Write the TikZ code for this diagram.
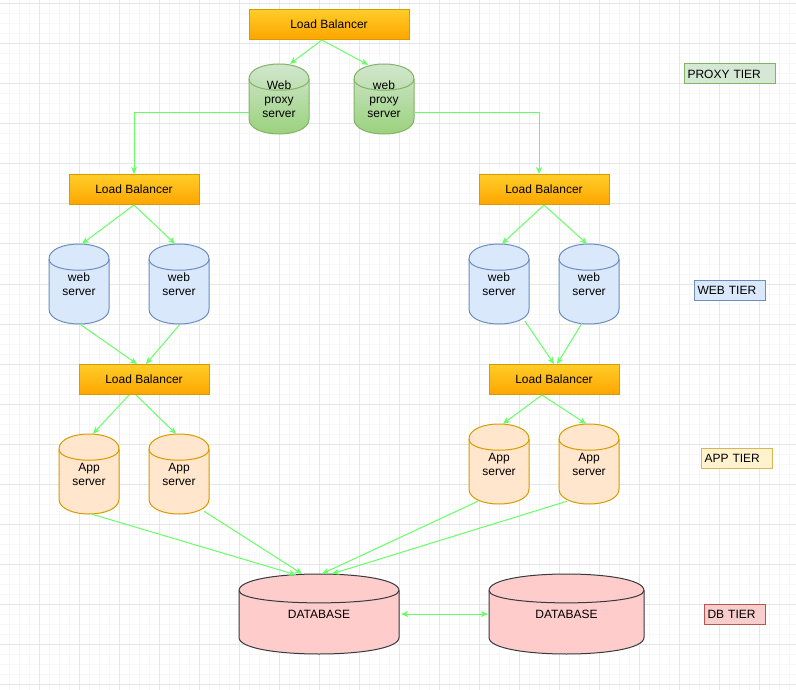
\documentclass[tikz,border=0pt]{standalone}
\usepackage{fontspec}
\setmainfont{Liberation Sans}
\usetikzlibrary{calc,arrows.meta}
\definecolor{conncol}{HTML}{66FF66}
\definecolor{lbdraw}{HTML}{D79B00}
\definecolor{lbtop}{HTML}{FFCD28}
\definecolor{lbbot}{HTML}{FFA500}
\definecolor{pxdraw}{HTML}{82B366}
\definecolor{pxtop}{HTML}{D5E8D4}
\definecolor{pxbot}{HTML}{97D077}
\definecolor{webfill}{HTML}{DAE8FC}
\definecolor{webdraw}{HTML}{6C8EBF}
\definecolor{appfill}{HTML}{FFE6CC}
\definecolor{appdraw}{HTML}{D79B00}
\definecolor{dbfill}{HTML}{FFCCCC}
\definecolor{dbdraw}{HTML}{36393D}
\definecolor{tapfill}{HTML}{FFF2CC}
\definecolor{tapdraw}{HTML}{D6B656}
\definecolor{tdbfill}{HTML}{F8CECC}
\definecolor{tdbdraw}{HTML}{B85450}
\definecolor{gridminor}{HTML}{F7F7F7}
\definecolor{gridmajor}{HTML}{E6E6E6}
\newcommand{\cylnode}[8]{%
  \pgfmathsetmacro\cylA{#3+#6}%
  \pgfmathsetmacro\cylB{#3-#6/3}%
  \pgfmathsetmacro\cylC{#3+#5-#6}%
  \pgfmathsetmacro\cylD{#3+#5+#6/3}%
  \pgfmathsetmacro\cylE{#3+2*#6}%
  \pgfmathsetmacro\cylR{#2+#4}%
  \path[#7body] (#2,\cylA) .. controls (#2,\cylB) and (\cylR,\cylB) .. (\cylR,\cylA)
     -- (\cylR,\cylC) .. controls (\cylR,\cylD) and (#2,\cylD) .. (#2,\cylC) -- cycle;
  \draw[#7line] (#2,\cylA) .. controls (#2,\cylE) and (\cylR,\cylE) .. (\cylR,\cylA);
  \node[cyltext, minimum width=#4pt, minimum height=#5pt] (#1) at (#2+#4/2,#3+#5/2) {#8};
}
\begin{document}
\begin{tikzpicture}[x=1pt,y=-1pt,
  txt/.style={font=\fontsize{12}{14}\selectfont, text=black},
  lb/.style={txt, draw=lbdraw, line width=1pt, top color=lbtop, bottom color=lbbot,
    minimum height=30pt, inner sep=0pt},
  cyltext/.style={txt, align=center, inner sep=0pt},
  proxybody/.style={draw=pxdraw, line width=1pt, top color=pxtop, bottom color=pxbot},
  proxyline/.style={draw=pxdraw, line width=1pt},
  webbody/.style={draw=webdraw, line width=1pt, fill=webfill},
  webline/.style={draw=webdraw, line width=1pt},
  appbody/.style={draw=appdraw, line width=1pt, fill=appfill},
  appline/.style={draw=appdraw, line width=1pt},
  dbbody/.style={draw=dbdraw, line width=1pt, fill=dbfill},
  dbline/.style={draw=dbdraw, line width=1pt},
  tier/.style={txt, line width=1pt, anchor=west, align=left, inner xsep=3pt,
    inner ysep=0pt, minimum height=20pt},
  conn/.style={draw=conncol, line width=1pt, -{Stealth[length=7pt,width=6pt,inset=2pt]}},
  conn2/.style={draw=conncol, line width=1pt,
    {Stealth[length=7pt,width=6pt,inset=2pt]}-{Stealth[length=7pt,width=6pt,inset=2pt]}},
  minorg/.style={draw=gridminor, line width=1pt},
  majorg/.style={draw=gridmajor, line width=1pt}]
\useasboundingbox (0,0) rectangle (796,690);
\fill[white] (0,0) rectangle (796,690);
% grid
\foreach \x in {9,19,...,789} \draw[minorg] (\x,0) -- (\x,690);
\foreach \y in {4,14,...,684} \draw[minorg] (0,\y) -- (796,\y);
\foreach \x in {39,79,...,789} \draw[majorg] (\x,0) -- (\x,690);
\foreach \y in {4,44,...,684} \draw[majorg] (0,\y) -- (796,\y);

% load balancers
\node[lb, minimum width=160pt] (lb0) at (329,24.5) {Load Balancer};
\node[lb, minimum width=130pt] (lbw1) at (134,189.5) {Load Balancer};
\node[lb, minimum width=130pt] (lbw2) at (544,189.5) {Load Balancer};
\node[lb, minimum width=130pt] (lba1) at (144,379.5) {Load Balancer};
\node[lb, minimum width=130pt] (lba2) at (554,379.5) {Load Balancer};

% proxies
\cylnode{px1}{249}{64}{60}{70}{15}{proxy}{Web\\proxy\\server}
\cylnode{px2}{354}{64}{60}{70}{15}{proxy}{web\\proxy\\server}
% web servers
\cylnode{ws1}{49}{244}{60}{80}{15}{web}{web\\server}
\cylnode{ws2}{149}{244}{60}{80}{15}{web}{web\\server}
\cylnode{ws3}{469}{244}{60}{80}{15}{web}{web\\server}
\cylnode{ws4}{559}{244}{60}{80}{15}{web}{web\\server}
% app servers
\cylnode{as1}{59}{434}{60}{80}{15}{app}{App\\server}
\cylnode{as2}{149}{434}{60}{80}{15}{app}{App\\server}
\cylnode{as3}{469}{424}{60}{80}{15}{app}{App\\server}
\cylnode{as4}{559}{424}{60}{80}{15}{app}{App\\server}
% databases
\cylnode{db1}{239}{574}{160}{80}{16.5}{db}{DATABASE}
\cylnode{db2}{489}{574}{155}{80}{16.5}{db}{DATABASE}

% tier labels
\node[tier, fill=pxtop, draw=pxdraw, text width=85pt] (tproxy) at (684,74) {PROXY TIER};
\node[tier, fill=webfill, draw=webdraw, text width=65pt] (tweb) at (694,290.5) {WEB TIER};
\node[tier, fill=tapfill, draw=tapdraw, text width=65pt] (tapp) at (701,458.5) {APP TIER};
\node[tier, fill=tdbfill, draw=tdbdraw, text width=55pt] (tdb) at (704,614.5) {DB TIER};

% connectors
\draw[conn] ($(lb0.south)+(-7,0)$) -- ($(px1.north)+(11,0)$);
\draw[conn] ($(lb0.south)+(-7,0)$) -- ($(px2.north)+(-16,1)$);
\draw[conn] ($(px1.west)+(0,14)$) -| (lbw1.north);
\draw[conn] ($(px2.east)+(0,14)$) -| ($(lbw2.north)+(-5,0)$);
\draw[conn] (lbw1.south) -- ($(ws1.north)+(3,0)$);
\draw[conn] (lbw1.south) -- ($(ws2.north)+(-4,0)$);
\draw[conn] (lbw2.south) -- ($(ws3.north)+(3,0)$);
\draw[conn] (lbw2.south) -- ($(ws4.north)+(-2,0)$);
\draw[conn] ($(ws1.south)+(1,0)$) -- ($(lba1.north)+(-7,0)$);
\draw[conn] ($(ws2.south)+(1,0)$) -- ($(lba1.north)+(2,0)$);
\draw[conn] ($(ws3.south)+(26,-3)$) -- (lba2.north);
\draw[conn] ($(ws4.south)+(-7,-1)$) -- ($(lba2.north)+(3,0)$);
\draw[conn] ($(lba1.south)+(-15,0)$) -- ($(as1.north)+(4,0)$);
\draw[conn] ($(lba1.south)+(-8,0)$) -- ($(as2.north)+(-3,0)$);
\draw[conn] ($(lba2.south)+(-12,0)$) -- ($(as3.north)+(4,0)$);
\draw[conn] ($(lba2.south)+(-12,0)$) -- ($(as4.north)+(-3,0)$);
\draw[conn] ($(as1.south)+(3,0)$) -- ($(db1.north)+(-23,1)$);
\draw[conn] ($(as2.south)+(25,-3)$) -- ($(db1.north)+(-17,0)$);
\draw[conn] ($(as3.south)+(-21,-3)$) -- ($(db1.north)+(3,0)$);
\draw[conn] ($(as4.south)+(-22,-3)$) -- ($(db1.north)+(13,0)$);
\draw[conn2] ($(db1.east)+(2,0)$) -- ($(db2.west)+(-1,0)$);
\end{tikzpicture}
\end{document}
